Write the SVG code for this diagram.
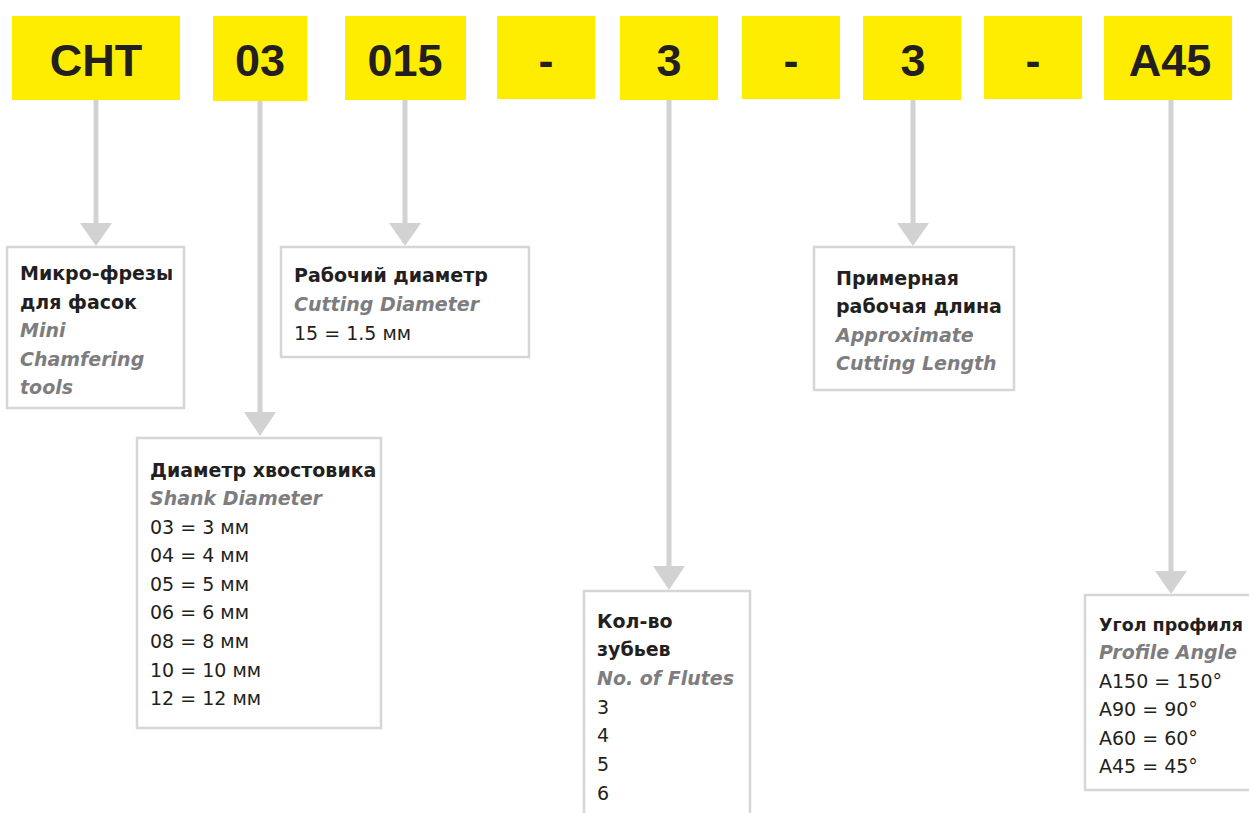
<svg xmlns="http://www.w3.org/2000/svg" width="1249" height="813" viewBox="0 0 1249 813">
<style>
.hb{fill:#ffed00}
.ht{font-family:"Liberation Sans",Arial,sans-serif;font-weight:bold;font-size:45px;fill:#231f20;text-anchor:middle}
.box{fill:#fff;stroke:#d6d6d6;stroke-width:2.5}
.t{font-family:"DejaVu Sans","Liberation Sans",sans-serif;font-size:19px;fill:#231f20}
.b{font-weight:bold}
.e{font-weight:bold;font-style:italic;fill:#7d7d7f}
.ln{stroke:#d2d2d2;stroke-width:5;fill:none}
.ah{fill:#d2d2d2}
</style>
<rect width="1249" height="813" fill="#fff"/>
<g id="header">
<g id="h-cht"><rect class="hb" x="12" y="16" width="168" height="84"/><text class="ht" x="96" y="76">CHT</text></g>
<g id="h-03"><rect class="hb" x="213" y="16" width="94" height="85"/><text class="ht" x="260" y="76">03</text></g>
<g id="h-015"><rect class="hb" x="345" y="16" width="121" height="84"/><text class="ht" x="405" y="76">015</text></g>
<g id="h-d1"><rect class="hb" x="497" y="16" width="98" height="83"/><text class="ht" x="546" y="76">-</text></g>
<g id="h-3a"><rect class="hb" x="620" y="16" width="98" height="84"/><text class="ht" x="669" y="76">3</text></g>
<g id="h-d2"><rect class="hb" x="742" y="16" width="98" height="83"/><text class="ht" x="791" y="76">-</text></g>
<g id="h-3b"><rect class="hb" x="863" y="16" width="98" height="84"/><text class="ht" x="913" y="76">3</text></g>
<g id="h-d3"><rect class="hb" x="984" y="16" width="98" height="83"/><text class="ht" x="1033" y="76">-</text></g>
<g id="h-a45"><rect class="hb" x="1104" y="16" width="128" height="84"/><text class="ht" x="1170" y="76">A45</text></g>
</g>
<g id="connectors">
<line class="ln" x1="96" y1="100" x2="96" y2="225"/><polygon class="ah" points="80,223 112,223 96,246"/>
<line class="ln" x1="260" y1="101" x2="260" y2="414"/><polygon class="ah" points="244,412 276,412 260,436"/>
<line class="ln" x1="405" y1="100" x2="405" y2="225"/><polygon class="ah" points="389,223 421,223 405,246"/>
<line class="ln" x1="669" y1="100" x2="669" y2="568"/><polygon class="ah" points="653,566 685,566 669,590"/>
<line class="ln" x1="913" y1="100" x2="913" y2="225"/><polygon class="ah" points="897,223 929,223 913,246"/>
<line class="ln" x1="1171" y1="100" x2="1171" y2="573"/><polygon class="ah" points="1155,571 1187,571 1171,594"/>
</g>
<g id="n-type">
<rect class="box" x="7" y="247" width="177" height="161"/>
<text class="t b" x="20" y="280">Микро-фрезы</text>
<text class="t b" x="20" y="309">для фасок</text>
<text class="t e" x="20" y="337">Mini</text>
<text class="t e" x="20" y="366">Chamfering</text>
<text class="t e" x="20" y="394">tools</text>
</g>
<g id="n-cutdia">
<rect class="box" x="281" y="247" width="248" height="110"/>
<text class="t b" x="294" y="282">Рабочий диаметр</text>
<text class="t e" x="294" y="311">Cutting Diameter</text>
<text class="t" x="294" y="340">15 = 1.5 мм</text>
</g>
<g id="n-shank">
<rect class="box" x="137" y="438" width="244" height="290"/>
<text class="t b" x="150" y="477">Диаметр хвостовика</text>
<text class="t e" x="150" y="505">Shank Diameter</text>
<text class="t" x="150" y="534">03 = 3 мм</text>
<text class="t" x="150" y="562">04 = 4 мм</text>
<text class="t" x="150" y="591">05 = 5 мм</text>
<text class="t" x="150" y="619">06 = 6 мм</text>
<text class="t" x="150" y="648">08 = 8 мм</text>
<text class="t" x="150" y="677">10 = 10 мм</text>
<text class="t" x="150" y="705">12 = 12 мм</text>
</g>
<g id="n-flutes">
<rect class="box" x="584" y="591" width="166" height="240"/>
<text class="t b" x="597" y="628">Кол-во</text>
<text class="t b" x="597" y="656">зубьев</text>
<text class="t e" x="597" y="685">No. of Flutes</text>
<text class="t" x="597" y="714">3</text>
<text class="t" x="597" y="742">4</text>
<text class="t" x="597" y="771">5</text>
<text class="t" x="597" y="800">6</text>
</g>
<g id="n-length">
<rect class="box" x="814" y="247" width="200" height="143"/>
<text class="t b" x="836" y="285">Примерная</text>
<text class="t b" x="836" y="313">рабочая длина</text>
<text class="t e" x="836" y="342">Approximate</text>
<text class="t e" x="836" y="370">Cutting Length</text>
</g>
<g id="n-angle">
<rect class="box" x="1085" y="595" width="200" height="195"/>
<text class="t b" x="1099" y="631" style="font-size:17.5px">Угол профиля</text>
<text class="t e" x="1099" y="659">Profile Angle</text>
<text class="t" x="1099" y="688">A150 = 150°</text>
<text class="t" x="1099" y="716">A90 = 90°</text>
<text class="t" x="1099" y="745">A60 = 60°</text>
<text class="t" x="1099" y="773">A45 = 45°</text>
</g>
</svg>
